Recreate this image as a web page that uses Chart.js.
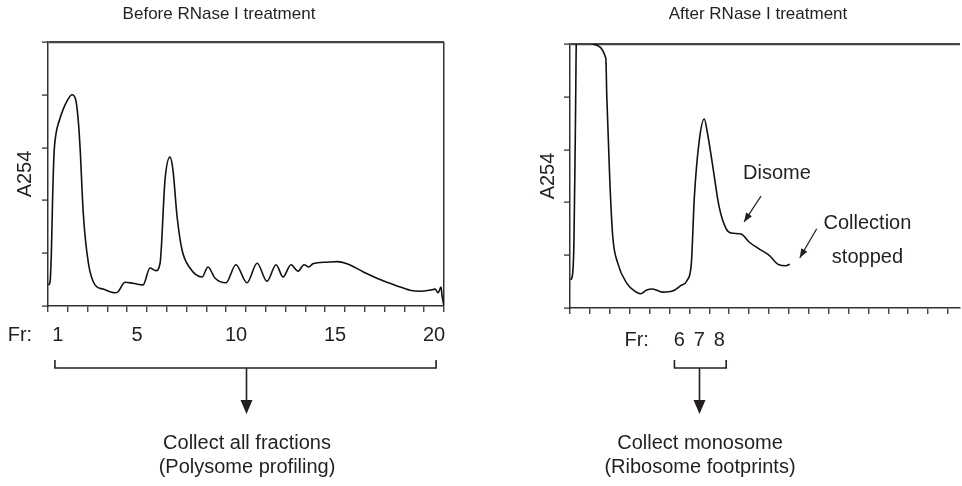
<!DOCTYPE html>
<html>
<head>
<meta charset="utf-8">
<script src="https://cdn.jsdelivr.net/npm/chart.js@4.4.0/dist/chart.umd.min.js"></script>
<style>
  html, body { margin: 0; padding: 0; background: #fff; }
  body {
    width: 962px; height: 486px; position: relative; overflow: hidden;
    font-family: Arial, "Liberation Sans", Helvetica, sans-serif; color: #231f20;
  }
  canvas { position: absolute; top: 0; }
  #left { left: 0; }
  #right { left: 481px; }
  .title {
    position: absolute; top: 4px; font-size: 17px; white-space: nowrap;
    transform: translateX(-50%);
  }
  .caption {
    position: absolute; top: 430px; font-size: 20px; line-height: 24px;
    text-align: center; white-space: nowrap; transform: translateX(-50%);
  }
</style>
</head>
<body>
<canvas id="left" width="481" height="486"></canvas>
<canvas id="right" width="481" height="486"></canvas>
<div class="title" style="left:219px">Before RNase I treatment</div>
<div class="title" style="left:758px">After RNase I treatment</div>
<div class="caption" style="left:247px">Collect all fractions<br>(Polysome profiling)</div>
<div class="caption" style="left:700px">Collect monosome<br>(Ribosome footprints)</div>
<script>
// before RNase I: position along the gradient (in fractions) and A254
const beforeFraction = [
  0.02, 0.10, 0.17, 0.23, 0.30, 0.40, 0.56, 0.76, 0.96, 1.21, 1.39, 1.52,
  1.62, 1.78, 2.04, 2.37, 2.78, 3.38, 3.54, 3.89, 4.29, 4.80, 5.15, 5.45,
  5.66, 5.91, 6.16, 6.31, 6.52, 6.77, 7.17, 7.78, 8.08, 8.43, 8.99, 9.49,
  10.05, 10.56, 11.06, 11.52, 11.87, 12.27, 12.63, 12.93, 13.18, 13.38, 14.09,
  14.60, 15.10, 15.91, 16.77, 17.63, 18.28, 18.79, 19.29, 19.55, 19.70, 19.85,
  19.90, 20.0
];
const beforeA254 = [
  0.40, 0.45, 1.00, 2.00, 2.85, 3.25, 3.50, 3.72, 3.88, 4.00, 3.92, 3.55,
  3.00, 1.76, 0.81, 0.40, 0.32, 0.25, 0.27, 0.45, 0.43, 0.40, 0.72, 0.67,
  0.81, 2.39, 2.82, 2.58, 1.69, 1.06, 0.72, 0.55, 0.74, 0.53, 0.44, 0.78,
  0.44, 0.81, 0.47, 0.78, 0.55, 0.78, 0.66, 0.78, 0.74, 0.80, 0.83,
  0.84, 0.80, 0.65, 0.50, 0.38, 0.30, 0.28, 0.30, 0.32, 0.25, 0.36,
  0.20, 0.0
];

// after RNase I (first peak runs off the top of the scale)
const afterFraction = [
  0.04, 0.14, 0.20, 0.27, 0.33, 0.70, 1.15, 1.80, 1.85, 2.00, 2.15, 2.40,
  2.85, 3.25, 3.55, 3.85, 4.15, 4.65, 5.15, 5.55, 5.90, 6.10, 6.25, 6.50,
  6.75, 6.90, 7.15, 7.50, 7.85, 8.10, 8.60, 9.00, 9.50, 10.00, 10.50, 10.85, 11.05
];
const afterA254 = [
  0.53, 0.68, 1.29, 3.37, 5.30, 5.60, 5.00, 4.73, 4.00, 2.42, 1.35, 0.85,
  0.47, 0.32, 0.27, 0.34, 0.36, 0.30, 0.32, 0.42, 0.53, 0.85, 2.10, 3.18,
  3.58, 3.33, 2.75, 1.91, 1.50, 1.42, 1.40, 1.25, 1.12, 1.00, 0.82, 0.80, 0.83
];

const yTicks = [0, 1, 2, 3, 4, 5];

const beforeLabels = ["1", "5", "10", "15", "20"];
const beforeLabelAt = [0.5, 4.5, 9.5, 14.5, 19.5];
const afterLabels = ["6", "7", "8"];
const afterLabelAt = [5.5, 6.5, 7.5];

const FONT = 'Arial, "Liberation Sans", Helvetica, sans-serif';
const INK = "#231f20";
const AXIS = "#333";

function arrowHead(ctx, x0, y0, x1, y1, len, half) {
  const a = Math.atan2(y1 - y0, x1 - x0);
  ctx.beginPath();
  ctx.moveTo(x1, y1);
  ctx.lineTo(x1 - len * Math.cos(a) + half * Math.sin(a),
             y1 - len * Math.sin(a) - half * Math.cos(a));
  ctx.lineTo(x1 - len * Math.cos(a) - half * Math.sin(a),
             y1 - len * Math.sin(a) + half * Math.cos(a));
  ctx.closePath();
  ctx.fill();
}

const profileNotes = {
  id: "profileNotes",
  afterDraw(chart, args, o) {
    const ctx = chart.ctx;
    const xs = chart.scales.x, ys = chart.scales.y;
    const bottom = chart.chartArea.bottom;
    ctx.save();
    ctx.fillStyle = INK;
    ctx.strokeStyle = INK;
    ctx.font = "20px " + FONT;
    ctx.textAlign = "center";
    ctx.textBaseline = "middle";

    // "Fr:" in the fraction label row
    ctx.fillText("Fr:", xs.getPixelForValue(o.frAt), bottom + o.labelRow);

    // bracket under the selected fractions and arrow down
    const bx0 = xs.getPixelForValue(o.bracket[0]);
    const bx1 = xs.getPixelForValue(o.bracket[1]);
    const bs = Math.round(xs.getPixelForValue(o.bracket[2])) + 0.5;
    const by = bottom + o.bracketY;
    ctx.lineWidth = 1.6;
    ctx.beginPath();
    ctx.moveTo(bx0, by - 8);
    ctx.lineTo(bx0, by);
    ctx.lineTo(bx1, by);
    ctx.lineTo(bx1, by - 8);
    ctx.moveTo(bs, by);
    ctx.lineTo(bs, by + 36);
    ctx.stroke();
    arrowHead(ctx, bs, by, bs, by + 46, 14, 6);

    // labelled arrows on the trace
    (o.notes || []).forEach(n => {
      n.text.forEach((t, i) => {
        ctx.fillText(t, xs.getPixelForValue(n.at[0]),
                     ys.getPixelForValue(n.at[1]) + i * 34);
      });
      const x0 = xs.getPixelForValue(n.from[0]), y0 = ys.getPixelForValue(n.from[1]);
      const x1 = xs.getPixelForValue(n.to[0]), y1 = ys.getPixelForValue(n.to[1]);
      ctx.lineWidth = 1.2;
      ctx.beginPath();
      ctx.moveTo(x0, y0);
      ctx.lineTo(x1, y1);
      ctx.stroke();
      arrowHead(ctx, x0, y0, x1, y1, 9, 3.5);
    });
    ctx.restore();
  }
};

function drawProfile(id, cfg) {
  const labelOf = v => {
    const i = cfg.labelAt.indexOf(v);
    return i >= 0 ? cfg.labels[i] : "";
  };
  const tickValues = [];
  for (let v = 0; v <= Math.floor(cfg.xMax); v++) tickValues.push(v);
  cfg.labelAt.forEach(v => tickValues.push(v));
  tickValues.sort((a, b) => a - b);

  return new Chart(document.getElementById(id), {
    type: "line",
    data: {
      datasets: [{
        data: cfg.x.map((x, i) => ({ x, y: cfg.y[i] })),
        borderColor: "#111",
        borderWidth: 1.6,
        pointRadius: 0,
        fill: false,
        cubicInterpolationMode: "monotone"
      }]
    },
    options: {
      responsive: false,
      animation: false,
      events: [],
      layout: { padding: cfg.padding },
      plugins: {
        legend: { display: false },
        tooltip: { enabled: false },
        profileNotes: cfg.notes
      },
      scales: {
        x: {
          type: "linear",
          min: 0,
          max: cfg.xMax,
          afterBuildTicks: s => { s.ticks = tickValues.map(v => ({ value: v })); },
          afterFit: s => { s.height = cfg.xHeight; },
          ticks: {
            autoSkip: false,
            maxRotation: 0,
            padding: cfg.tickPad,
            color: INK,
            font: { family: FONT, size: 20 },
            callback: v => labelOf(v)
          },
          grid: {
            drawOnChartArea: true,
            lineWidth: 1.5,
            color: c => (cfg.rightBorder && c.tick && c.tick.value === cfg.xMax) ? AXIS : "rgba(0,0,0,0)",
            tickLength: 6,
            tickWidth: 1.3,
            tickColor: c => (c.tick && Number.isInteger(c.tick.value)) ? AXIS : "rgba(0,0,0,0)"
          },
          border: { color: AXIS, width: 1.5 }
        },
        y: {
          min: 0,
          max: 5,
          afterBuildTicks: s => { s.ticks = yTicks.map(v => ({ value: v })); },
          afterFit: s => { s.width = cfg.yWidth; },
          ticks: { display: false },
          grid: {
            drawOnChartArea: true,
            lineWidth: 2.2,
            color: c => (c.tick && c.tick.value === 5) ? "#444" : "rgba(0,0,0,0)",
            tickLength: 6,
            tickWidth: 1.3,
            tickColor: AXIS
          },
          border: { color: AXIS, width: 1.5 },
          title: {
            display: true,
            text: "A254",
            color: INK,
            font: { family: FONT, size: 20 },
            padding: { top: cfg.titlePad, bottom: 0 }
          }
        }
      }
    },
    plugins: [profileNotes]
  });
}

drawProfile("left", {
  x: beforeFraction,
  y: beforeA254,
  xMax: 20,
  labels: beforeLabels,
  labelAt: beforeLabelAt,
  rightBorder: true,
  padding: { top: 42, right: 37, bottom: 0, left: 0 },
  yWidth: 48,
  xHeight: 180,
  tickPad: 11,
  titlePad: 13,
  notes: {
    frAt: -1.42,
    labelRow: 29,
    bracket: [0.35, 19.6, 10.0],
    bracketY: 62,
    notes: []
  }
});

drawProfile("right", {
  x: afterFraction,
  y: afterA254,
  xMax: 19.6,
  labels: afterLabels,
  labelAt: afterLabelAt,
  rightBorder: false,
  padding: { top: 44, right: 0, bottom: 0, left: 0 },
  yWidth: 89,
  xHeight: 178,
  tickPad: 14,
  titlePad: 55,
  notes: {
    frAt: 3.35,
    labelRow: 32,
    bracket: [5.25, 7.85, 6.5],
    bracketY: 60,
    notes: [
      { text: ["Disome"], at: [10.4, 2.54], from: [9.6, 2.12], to: [8.75, 1.63] },
      { text: ["Collection", "stopped"], at: [14.95, 1.61], from: [12.4, 1.50], to: [11.55, 0.95] }
    ]
  }
});
</script>
</body>
</html>
